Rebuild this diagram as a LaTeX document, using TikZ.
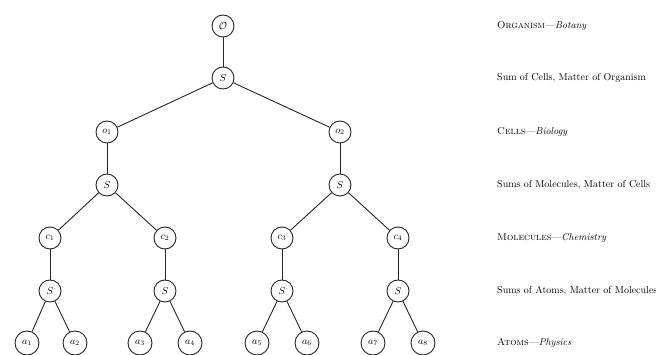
\documentclass[tikz,border=0pt]{standalone}
\begin{document}
\begin{tikzpicture}[x=1pt,y=-1pt,
  nd/.style={draw=black!85, circle, line width=0.9pt, minimum size=22pt, inner sep=1pt, font=\normalsize},
  lf/.style={nd, minimum size=24pt},
  edge/.style={draw=black!85, line width=0.9pt},
  lab/.style={anchor=west, inner sep=0pt, font=\normalsize}]
\useasboundingbox (0,0) rectangle (656,355);
% tree nodes
\node[nd] (O) at (223,26) {$\mathcal{O}$};
\node[nd] (S0) at (223,78) {$S$};
\node[nd] (o1) at (107,132) {$o_1$};
\node[nd] (o2) at (340,132) {$o_2$};
\node[nd] (S1) at (107,185) {$S$};
\node[nd] (S2) at (340,185) {$S$};
\node[nd] (c1) at (50,238) {$c_1$};
\node[nd] (c2) at (165,238) {$c_2$};
\node[nd] (c3) at (282,238) {$c_3$};
\node[nd] (c4) at (398,238) {$c_4$};
\node[nd] (S3) at (50,291) {$S$};
\node[nd] (S4) at (165,291) {$S$};
\node[nd] (S5) at (282,291) {$S$};
\node[nd] (S6) at (398,291) {$S$};
\node[lf] (a1) at (27,343) {$a_1$};
\node[lf] (a2) at (75,343) {$a_2$};
\node[lf] (a3) at (140,343) {$a_3$};
\node[lf] (a4) at (190,343) {$a_4$};
\node[lf] (a5) at (257,343) {$a_5$};
\node[lf] (a6) at (307,343) {$a_6$};
\node[lf] (a7) at (373,343) {$a_7$};
\node[lf] (a8) at (423,343) {$a_8$};
% edges
\draw[edge] (O) -- (S0);
\draw[edge] (S0) -- (o1);
\draw[edge] (S0) -- (o2);
\draw[edge] (o1) -- (S1);
\draw[edge] (o2) -- (S2);
\draw[edge] (S1) -- (c1);
\draw[edge] (S1) -- (c2);
\draw[edge] (S2) -- (c3);
\draw[edge] (S2) -- (c4);
\draw[edge] (c1) -- (S3);
\draw[edge] (c2) -- (S4);
\draw[edge] (c3) -- (S5);
\draw[edge] (c4) -- (S6);
\draw[edge] (S3) -- (a1);
\draw[edge] (S3) -- (a2);
\draw[edge] (S4) -- (a3);
\draw[edge] (S4) -- (a4);
\draw[edge] (S5) -- (a5);
\draw[edge] (S5) -- (a6);
\draw[edge] (S6) -- (a7);
\draw[edge] (S6) -- (a8);
% labels
\node[lab] (l1) at (497,26) {\textsc{Organism}---\textit{Botany}};
\node[lab] (l2) at (497,78) {Sum of Cells, Matter of Organism};
\node[lab] (l3) at (497,132) {\textsc{Cells}---\textit{Biology}};
\node[lab] (l4) at (497,185) {Sums of Molecules, Matter of Cells};
\node[lab] (l5) at (497,238) {\textsc{Molecules}---\textit{Chemistry}};
\node[lab] (l6) at (497,291) {Sums of Atoms, Matter of Molecules};
\node[lab] (l7) at (497,343) {\textsc{Atoms}---\textit{Physics}};
\end{tikzpicture}
\end{document}
